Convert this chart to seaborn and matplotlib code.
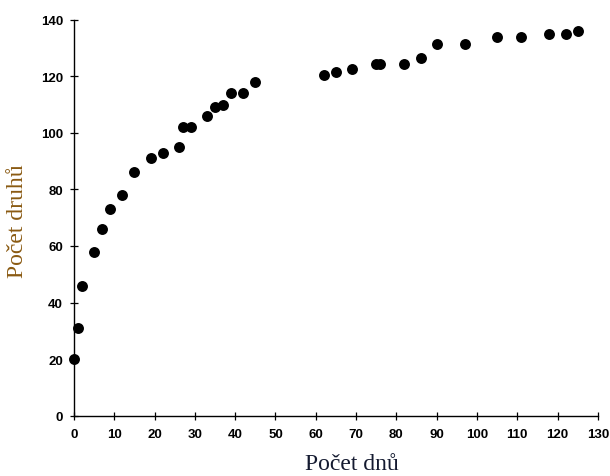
import matplotlib
matplotlib.use('Agg')
import matplotlib.pyplot as plt
import seaborn as sns
import pandas as pd

# days since start vs cumulative number of species
days = [0, 1, 2, 5, 7, 9, 12, 15, 19, 22, 26, 27, 29, 33, 35, 37, 39, 42, 45,
        62, 65, 69, 75, 76, 82, 86, 90, 97, 105, 111, 118, 122, 125]
species = [20, 31, 46, 58, 66, 73, 78, 86, 91, 93, 95, 102, 102, 106, 109, 110, 114, 114, 118,
           120.5, 121.5, 122.5, 124.5, 124.5, 124.5, 126.5, 131.5, 131.5, 134, 134, 135, 135, 136]
x_ticks = list(range(0, 131, 10))
y_ticks = list(range(0, 141, 20))

df = pd.DataFrame({'days': days, 'species': species})

sns.set_style('ticks')
plt.rcParams['font.family'] = ['Liberation Sans', 'DejaVu Sans']

fig = plt.figure(figsize=(6.1, 4.77), dpi=100)
ax = fig.add_axes([0.1213, 0.1264, 0.8587, 0.8302])

sns.scatterplot(data=df, x='days', y='species', ax=ax, color='black',
                s=62, edgecolor='black', linewidth=0, legend=False, clip_on=False)

ax.set_xlim(0, 130)
ax.set_ylim(0, 140)
ax.set_xticks(x_ticks)
ax.set_yticks(y_ticks)
ax.tick_params(direction='inout', length=6, width=0.9, colors='black',
               labelsize=9.5)
ax.tick_params(axis='x', pad=6)
ax.tick_params(axis='y', pad=5)
for lab in ax.get_xticklabels() + ax.get_yticklabels():
    lab.set_fontweight('bold')

sns.despine(ax=ax)
for sp in ['left', 'bottom']:
    ax.spines[sp].set_linewidth(1.0)
    ax.spines[sp].set_color('black')

serif = ['Liberation Serif', 'DejaVu Serif']
ax.set_xlabel('Počet dnů', fontsize=17, family=serif, color='#141a30')
ax.set_ylabel('Počet druhů', fontsize=17, family=serif, color='#8a5a12')
ax.xaxis.set_label_coords(0.53, -0.095)
ax.yaxis.set_label_coords(-0.088, 0.494)

fig.savefig('out.png', dpi=100)
